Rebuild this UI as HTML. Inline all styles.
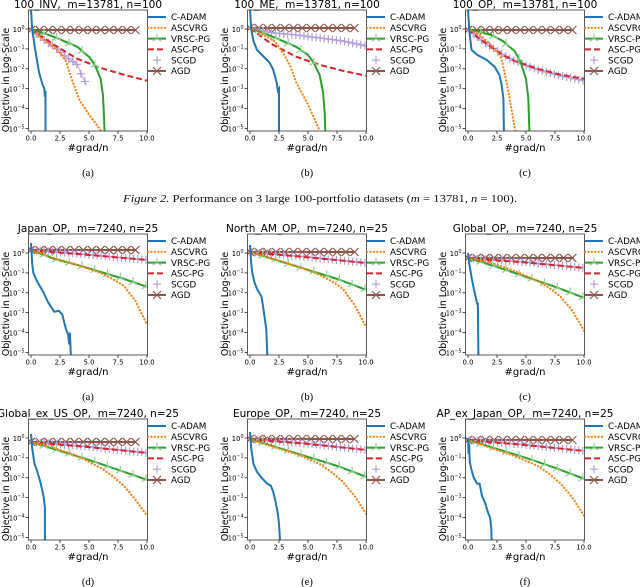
<!DOCTYPE html>
<html><head><meta charset="utf-8"><style>
html,body{margin:0;padding:0;background:#fff;}
svg{display:block;}
text{white-space:pre;}
</style></head><body>
<svg id="fig" width="640" height="587" viewBox="0 0 640 587" xmlns="http://www.w3.org/2000/svg"></svg>
<script>
const panelTitles = ["100_INV,  m=13781, n=100","100_ME,  m=13781, n=100","100_OP,  m=13781, n=100",
"Japan_OP,  m=7240, n=25","North_AM_OP,  m=7240, n=25","Global_OP,  m=7240, n=25",
"Global_ex_US_OP,  m=7240, n=25","Europe_OP,  m=7240, n=25","AP_ex_Japan_OP,  m=7240, n=25"];
const subLabels = ["(a)","(b)","(c)","(a)","(b)","(c)","(d)","(e)","(f)"];
const xTicks = [0,2.5,5,7.5,10];
const xTickLabels = ["0.0","2.5","5.0","7.5","10.0"];
const yTicks = [0,-1,-2,-3,-4,-5];
const yTickExps = ["0","−1","−2","−3","−4","−5"];
const seriesNames = ["C-ADAM","ASCVRG","VRSC-PG","ASC-PG","SCGD","AGD"];
// values: [#grad/n, log10(objective)]
const cadamData = [
 [[0,1],[0.1,0],[0.35,-1],[0.7,-2.2],[1.0,-2.8],[1.15,-3.0],[1.2,-3.4],[1.25,-3.1],[1.25,-5.3]],
 [[0,1],[0.1,0],[0.3,-0.6],[0.6,-1.05],[1.2,-1.4],[1.7,-1.7],[2.0,-2.05],[2.3,-2.7],[2.4,-3.1],[2.5,-3.0],[2.5,-5.3]],
 [[0,1],[0.1,0],[0.3,-1.05],[0.8,-1.3],[1.6,-1.55],[2.3,-1.9],[2.7,-2.3],[2.9,-2.8],[3.05,-3.5],[3.1,-5.3]],
 [[0,0.5],[0.1,-0.5],[0.2,-1.0],[0.5,-1.4],[1.0,-1.9],[1.5,-2.5],[2.0,-2.95],[2.4,-2.9],[2.7,-3.1],[3.0,-3.8],[3.2,-4.1],[3.3,-4.6],[3.35,-4.0],[3.45,-5.3]],
 [[0,0.4],[0.1,-0.5],[0.2,-1.0],[0.4,-1.5],[0.6,-1.8],[1.0,-2.2],[1.2,-3.0],[1.4,-3.8],[1.5,-5.3]],
 [[0,0],[0.1,-0.5],[0.3,-1.2],[0.5,-1.8],[0.7,-2.3],[0.8,-2.6],[0.85,-2.5],[0.9,-5.3]],
 [[0,0.2],[0.1,-0.5],[0.3,-1.3],[0.5,-1.6],[0.8,-2.2],[1.0,-2.7],[1.1,-3.0],[1.2,-3.5],[1.2,-5.3]],
 [[0,0.3],[0.1,-0.5],[0.3,-1.3],[0.6,-1.7],[1.0,-2.0],[1.5,-2.3],[1.8,-2.4],[2.0,-2.7],[2.2,-3.2],[2.4,-3.8],[2.5,-4.3],[2.6,-5.3]],
 [[0,0],[0.05,-0.8],[0.1,-0.3],[0.15,-1.2],[0.3,-1.6],[0.5,-2.0],[0.8,-2.3],[1.0,-2.3],[1.2,-2.9],[1.5,-3.3],[1.7,-3.7],[1.9,-4.0],[2.0,-4.5],[2.05,-5.3]]
];
const ascvrgData = [
 [[0,0],[0.5,-0.3],[1.5,-0.7],[2.5,-1.2],[3,-1.6],[3.5,-2.5],[4.2,-3.6],[5,-4.3],[5.9,-5.0],[6.2,-5.3]],
 [[0,0.05],[1,-0.25],[2,-0.55],[2.5,-0.9],[3,-1.35],[3.5,-1.9],[4,-2.7],[5,-3.8],[6,-5.1]],
 [[0,0],[1,-0.3],[1.8,-0.7],[2.5,-1.1],[2.9,-1.5],[3.5,-3.2],[4.1,-5.2]],
 [[0,0.15],[2,-0.25],[4,-0.6],[6,-1.0],[7,-1.3],[8,-1.65],[9,-2.4],[10,-3.6]],
 [[0,0.05],[2,-0.3],[4,-0.65],[6,-1.1],[7,-1.4],[8,-1.8],[9,-2.6],[10,-3.7]],
 [[0,-0.25],[2,-0.5],[4,-0.9],[6,-1.4],[7,-1.75],[8,-2.2],[9,-2.9],[10,-3.9]],
 [[0,-0.2],[2,-0.5],[4,-0.9],[6,-1.5],[7,-1.9],[8,-2.4],[9,-3.1],[10,-3.9]],
 [[0,-0.05],[2,-0.45],[4,-0.8],[6,-1.3],[7,-1.7],[8,-2.2],[9,-2.9],[10,-3.8]],
 [[0,-0.1],[2,-0.5],[4,-0.9],[6,-1.4],[7,-1.8],[8,-2.3],[9,-3.0],[10,-3.9]]
];
const vrscData = [
 [[0,0],[2,-0.4],[4,-0.9],[5,-1.4],[5.5,-1.8],[6,-2.5],[6.2,-3.3],[6.3,-4.5],[6.35,-5.3]],
 [[0,0.05],[2,-0.4],[4,-0.9],[5,-1.3],[5.5,-1.7],[6,-2.3],[6.3,-3.2],[6.45,-4.3],[6.5,-5.3]],
 [[0,0],[2,-0.3],[3,-0.6],[4,-1.1],[4.5,-1.6],[5,-2.5],[5.2,-3.5],[5.3,-5.3]],
 [[0,0.15],[2,-0.3],[4,-0.6],[6,-0.95],[8,-1.3],[10,-1.7]],
 [[0,0.05],[2.5,-0.4],[5,-0.85],[7.5,-1.3],[10,-1.85]],
 [[0,-0.25],[2.5,-0.7],[5,-1.2],[7.5,-1.7],[10,-2.25]],
 [[0,-0.2],[2.5,-0.65],[5,-1.1],[7.5,-1.6],[10,-2.1]],
 [[0,-0.05],[2.5,-0.5],[5,-0.95],[7.5,-1.4],[10,-1.95]],
 [[0,-0.1],[2.5,-0.55],[5,-1.0],[7.5,-1.5],[10,-2.05]]
];
const ascpgData = [
 [[0,0],[2,-0.8],[4,-1.5],[6,-1.95],[8,-2.3],[10,-2.6]],
 [[0,0.05],[1,-0.4],[2,-0.8],[4,-1.4],[6,-1.8],[8,-2.1],[10,-2.35]],
 [[0,0],[1,-0.5],[2,-0.9],[3,-1.3],[4,-1.6],[6,-2.0],[8,-2.3],[10,-2.5]],
 [[0,0.15],[5,-0.1],[10,-0.35]],
 [[0,0.05],[5,-0.22],[10,-0.5]],
 [[0,-0.25],[5,-0.48],[10,-0.75]],
 [[0,-0.2],[5,-0.46],[10,-0.75]],
 [[0,-0.05],[5,-0.3],[10,-0.6]],
 [[0,-0.1],[5,-0.36],[10,-0.65]]
];
const scgdData = [
 [[0,0],[1,-0.5],[2,-0.9],[3,-1.4],[4,-1.8],[4.3,-2.25],[4.8,-2.8]],
 [[0,0.05],[2,-0.2],[4,-0.3],[6,-0.45],[8,-0.6],[10,-0.85]],
 [[0,0],[1,-0.5],[2,-0.9],[3,-1.3],[4,-1.6],[6,-2.05],[8,-2.35],[10,-2.6]],
 [[0,0.15],[5,-0.08],[10,-0.35]],
 [[0,0.05],[5,-0.2],[10,-0.5]],
 [[0,-0.25],[5,-0.46],[10,-0.75]],
 [[0,-0.2],[5,-0.44],[10,-0.75]],
 [[0,-0.05],[5,-0.28],[10,-0.6]],
 [[0,-0.1],[5,-0.34],[10,-0.65]]
];
const agdData = [
 [[0,-0.05],[9,-0.05]],[[0,0.05],[9,0.05]],[[0,-0.05],[9,-0.05]],
 [[0,0.15],[9,0.15]],[[0,0.05],[9,0.05]],[[0,-0.25],[9,-0.25]],
 [[0,-0.2],[9,-0.2]],[[0,-0.05],[9,-0.05]],[[0,-0.1],[9,-0.1]]
];

const NS="http://www.w3.org/2000/svg";
const svg=document.getElementById('fig');
function mk(tag,attrs,parent){const e=document.createElementNS(NS,tag);for(const k in attrs)e.setAttribute(k,attrs[k]);(parent||svg).appendChild(e);return e;}
const FONT='"DejaVu Sans","Liberation Sans",sans-serif';
const colL=[31,250,468], rowT=[10,234,419];
const PXU=11.6, DEC=19.9;
const COLORS=["#1f77b4","#ff7f0e","#2ca02c","#d62728","#c5b0d5","#8c564b"];

function interp(pts,x){
  for(let i=0;i<pts.length-1;i++){const a=pts[i],b=pts[i+1];if(x>=a[0]&&x<=b[0]){if(b[0]===a[0])return a[1];return a[1]+(b[1]-a[1])*(x-a[0])/(b[0]-a[0]);}}
  return null;
}
function markerAt(g,type,cx,cy,color){
  if(type==='x'){mk('path',{d:`M${cx-4},${cy-4}L${cx+4},${cy+4}M${cx-4},${cy+4}L${cx+4},${cy-4}`,stroke:color,'stroke-width':1.2,fill:'none'},g);}
  else if(type==='+'){mk('path',{d:`M${cx-4},${cy}L${cx+4},${cy}M${cx},${cy-4}L${cx},${cy+4}`,stroke:color,'stroke-width':1.2,fill:'none'},g);}
  else if(type==='tri'){mk('path',{d:`M${cx},${cy}L${cx},${cy-5}M${cx},${cy}L${cx-4.3},${cy+2.5}M${cx},${cy}L${cx+4.3},${cy+2.5}`,stroke:'#8fd18f','stroke-width':1.2,fill:'none'},g);}
}

const cap=mk('text',{x:320,y:202,'text-anchor':'middle','font-family':'"Liberation Serif",serif','font-size':10.5,fill:'#111',textLength:394,lengthAdjust:'spacingAndGlyphs'});


cap.innerHTML='<tspan font-style="italic">Figure 2.</tspan> Performance on 3 large 100-portfolio datasets (<tspan font-style="italic">m</tspan> = 13781, <tspan font-style="italic">n</tspan> = 100).';

for(let p=0;p<9;p++){
  const col=p%3,row=Math.floor(p/3);
  const L=colL[col],T=rowT[row];
  const xs=v=>L+v*PXU;
  const ys=lv=>T+19-lv*DEC;
  const left=L-2.5,right=L+116.5,top=T,bottom=T+121;
  const g=mk('g',{});
  
  
  const clipId='clip'+p;
  const cp=mk('clipPath',{id:clipId},g);
  mk('rect',{x:left,y:top,width:right-left,height:bottom-top},cp);

  const ttl=mk('text',{x:L+57,y:T-2,'text-anchor':'middle','font-family':FONT,'font-size':10.5,fill:'#000','xml:space':'preserve'},g);
  
  
  ttl.textContent=panelTitles[p];

  xTicks.forEach((t,i)=>{
    mk('line',{x1:xs(t),x2:xs(t),y1:bottom,y2:bottom+3,stroke:'#000','stroke-width':0.7},g);
    const tl=mk('text',{x:xs(t),y:bottom+9.5,'text-anchor':'middle','font-family':FONT,'font-size':6.8,fill:'#000'},g);
    
    
    tl.textContent=xTickLabels[i];
  });
  yTicks.forEach((t,i)=>{
    mk('line',{x1:left-3,x2:left,y1:ys(t),y2:ys(t),stroke:'#000','stroke-width':0.7},g);
    const tl=mk('text',{x:left-4,y:ys(t)+2.8,'text-anchor':'end','font-family':FONT,'font-size':6.8,fill:'#000'},g);
    
    
    tl.innerHTML='10<tspan font-size="4.8" dy="-3">'+yTickExps[i]+'</tspan>';
  });
  const xl=mk('text',{x:L+57,y:bottom+20,'text-anchor':'middle','font-family':FONT,'font-size':10,fill:'#000'},g);
  
  
  xl.textContent='#grad/n';
  const yl=mk('text',{x:0,y:0,'text-anchor':'middle','font-family':FONT,'font-size':9.4,fill:'#000',transform:`translate(${L-22},${T+70}) rotate(-90)`},g);
  
  
  yl.textContent='Objective in Log-Scale';
  const sl=mk('text',{x:L+57,y:bottom+45,'text-anchor':'middle','font-family':'"Liberation Serif",serif','font-size':10.5,fill:'#000'},g);
  
  
  sl.textContent=subLabels[p];

  const plot=mk('g',{'clip-path':`url(#${clipId})`},g);
  
  
  const pathOf=pts=>pts.map((q,i)=>(i?'L':'M')+xs(q[0]).toFixed(2)+','+ys(q[1]).toFixed(2)).join('');
  function line(pts,name,attrs){
    const e=mk('path',Object.assign({d:pathOf(pts),fill:'none'},attrs),plot);
    
    
    return e;
  }
  function markers(pts,type,color,start,step){
    const last=pts[pts.length-1][0];
    for(let x=start;x<=last+1e-6;x+=step){const v=interp(pts,x);if(v===null||v<-5.12)continue;markerAt(plot,type,xs(x),ys(v),color);}
  }
  line(agdData[p],'agd-line',{stroke:COLORS[5],'stroke-width':2});
  markers(agdData[p],'x',COLORS[5],0,0.75);
  line(scgdData[p],'scgd-line',{stroke:'#b39ddb','stroke-width':1.2,opacity:0.8});
  markers(scgdData[p],'+','#b39ddb',0.1,0.35);
  line(ascpgData[p],'asc-pg-line',{stroke:COLORS[3],'stroke-width':2,'stroke-dasharray':'6,3'});
  line(vrscData[p],'vrsc-pg-line',{stroke:COLORS[2],'stroke-width':2});
  markers(vrscData[p],'tri',COLORS[2],1.1,1.1);
  line(ascvrgData[p],'ascvrg-line',{stroke:COLORS[1],'stroke-width':2.2,'stroke-dasharray':'0.1,3.3','stroke-linecap':'round'});
  line(cadamData[p],'c-adam-line',{stroke:COLORS[0],'stroke-width':2});

  mk('rect',{x:left,y:top,width:right-left,height:bottom-top,fill:'none',stroke:'#333','stroke-width':0.8},g);

  const lg=mk('g',{},g);
  
  
  seriesNames.forEach((n,i)=>{
    const y=T+7+i*10.8;
    const it=mk('g',{},lg);
    
    
    const x1=L+117,x2=L+135;
    const st=[{stroke:COLORS[0],'stroke-width':2},{stroke:COLORS[1],'stroke-width':2.2,'stroke-dasharray':'0.1,3.3','stroke-linecap':'round'},
      {stroke:COLORS[2],'stroke-width':2},{stroke:COLORS[3],'stroke-width':2,'stroke-dasharray':'6,3'},{stroke:'none'},{stroke:COLORS[5],'stroke-width':2}][i];
    mk('line',Object.assign({x1:x1,x2:x2,y1:y,y2:y},st),it);
    if(i===2)markerAt(it,'tri',(x1+x2)/2,y,COLORS[2]);
    if(i===4)markerAt(it,'+',(x1+x2)/2,y,'#b39ddb');
    if(i===5)markerAt(it,'x',(x1+x2)/2,y,COLORS[5]);
    const t=mk('text',{x:L+140,y:y+3.2,'font-family':FONT,'font-size':8.8,fill:'#000'},it);
    t.textContent=n;
  });
}
</script>
</body></html>
